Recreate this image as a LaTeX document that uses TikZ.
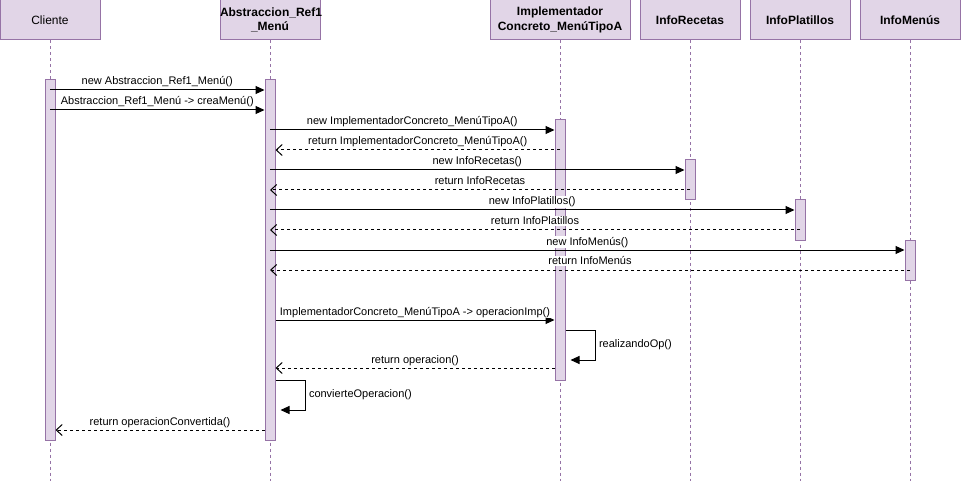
\documentclass[tikz,border=0pt]{standalone}
\usepackage{fontspec}
\setmainfont{Liberation Sans}
\usetikzlibrary{arrows.meta,positioning,calc}
\definecolor{umlfill}{HTML}{E1D5E7}
\definecolor{umlline}{HTML}{9673A6}

\begin{document}
\begin{tikzpicture}[x=1pt,y=-1pt,
  hdr/.style={draw=umlline,fill=umlfill,line width=1pt,minimum width=100pt,
    text width=100pt,minimum height=40pt,align=center,inner sep=0pt,
    font=\fontsize{12}{14.4}\selectfont},
  hdrb/.style={hdr,font=\fontsize{12}{14.4}\selectfont\bfseries},
  lifeln/.style={draw=umlline,line width=1pt,dash pattern=on 3pt off 3pt},
  actbar/.style={draw=umlline,fill=umlfill,line width=1pt,minimum width=10pt,inner sep=0pt},
  callmsg/.style={-{Triangle[length=9pt,width=8pt]},line width=1pt},
  retmsg/.style={-{Straight Barb[length=6pt,width=11pt]},line width=1pt,dash pattern=on 3pt off 3pt},
  msglbl/.style={font=\fontsize{11}{13}\selectfont,fill=white,inner sep=1pt,anchor=base,yshift=5pt}]
  \useasboundingbox (0,0) rectangle (961,481);
  %% Participants
  \node[hdr]  (cli) at (50,20)  {Cliente};
  \node[hdrb] (abs) at (270,20) {Abstraccion\_Ref1\\\_Menú};
  \node[hdrb,minimum width=140pt,text width=140pt] (imp) at (560,20) {Implementador\\Concreto\_MenúTipoA};
  \node[hdrb] (rec) at (690,20) {InfoRecetas};
  \node[hdrb] (pla) at (800,20) {InfoPlatillos};
  \node[hdrb] (men) at (910,20) {InfoMenús};
  %% Lifelines
  \coordinate (bottom) at (0,481);
  \foreach \p in {cli,abs,imp,rec,pla,men}
    \draw[lifeln] (\p.south) -- (\p |- bottom);
  %% Activation bars
  \node[actbar,minimum height=360pt] (aCli) at (50,260)  {};
  \node[actbar,minimum height=360pt] (aAbs) at (270,260) {};
  \node[actbar,minimum height=260pt] (aImp) at (560,250) {};
  \node[actbar,minimum height=40pt]  (aRec) at (690,180) {};
  \node[actbar,minimum height=40pt]  (aPla) at (800,220) {};
  \node[actbar,minimum height=40pt]  (aMen) at (910,260) {};
  %% Message levels
  \foreach \n/\y in {1/90,2/110,3/130,4/150,5/170,6/190,7/210,8/230,9/250,
                     10/270,11/320,12/330,13/368,14/380,15/430}
    \coordinate (y\n) at (0,\y);
  %% Messages
  \draw[callmsg] (aCli |- y1) -- (aAbs.west |- y1)
    node[msglbl,midway] {new Abstraccion\_Ref1\_Menú()};
  \draw[callmsg] (aCli |- y2) -- (aAbs.west |- y2)
    node[msglbl,midway] {Abstraccion\_Ref1\_Menú -> creaMenú()};
  \draw[callmsg] (aAbs |- y3) -- (aImp.west |- y3)
    node[msglbl,midway] {new ImplementadorConcreto\_MenúTipoA()};
  \draw[retmsg] (aImp |- y4) -- (aAbs.east |- y4)
    node[msglbl,midway] {return ImplementadorConcreto\_MenúTipoA()};
  \draw[callmsg] (aAbs |- y5) -- (aRec.west |- y5)
    node[msglbl,midway] {new InfoRecetas()};
  \draw[retmsg] (aRec |- y6) -- (aAbs |- y6)
    node[msglbl,midway] {return InfoRecetas};
  \draw[callmsg] (aAbs |- y7) -- (aPla.west |- y7)
    node[msglbl,midway] {new InfoPlatillos()};
  \draw[retmsg] (aPla |- y8) -- (aAbs |- y8)
    node[msglbl,midway] {return InfoPlatillos};
  \draw[callmsg] (aAbs |- y9) -- (aMen.west |- y9)
    node[msglbl,midway] {new InfoMenús()};
  \draw[retmsg] (aMen |- y10) -- (aAbs |- y10)
    node[msglbl,midway] {return InfoMenús};
  \draw[callmsg] (aAbs.east |- y11) -- (aImp.west |- y11)
    node[msglbl,midway] {ImplementadorConcreto\_MenúTipoA -> operacionImp()};
  \draw[callmsg] (aImp.east |- y12) -- ++(30,0) -- ++(0,30)
    node[midway,right,font=\fontsize{11}{13}\selectfont,inner sep=3pt] {realizandoOp()} -- ++(-25,0);
  \draw[retmsg] (aImp.west |- y13) -- (aAbs.east |- y13)
    node[msglbl,midway] {return operacion()};
  \draw[callmsg] (aAbs.east |- y14) -- ++(30,0) -- ++(0,30)
    node[midway,right,font=\fontsize{11}{13}\selectfont,inner sep=3pt] {convierteOperacion()} -- ++(-25,0);
  \draw[retmsg] (aAbs.west |- y15) -- (aCli.east |- y15)
    node[msglbl,midway] {return operacionConvertida()};
\end{tikzpicture}
\end{document}
